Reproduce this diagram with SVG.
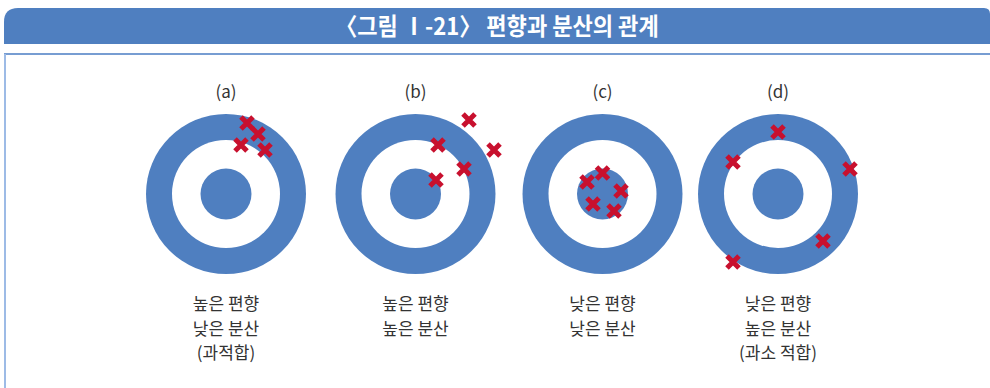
<svg xmlns="http://www.w3.org/2000/svg" width="990" height="388" viewBox="0 0 990 388">
<style>
.ring{fill:#4f7fc0}
.hole{fill:#ffffff}
.lab{font-family:"Noto Sans CJK KR","Noto Sans",sans-serif;font-size:17px;fill:#333333;text-anchor:middle}
.title{font-family:"Noto Sans CJK KR","Noto Sans",sans-serif;font-size:24px;font-weight:bold;fill:#ffffff;text-anchor:middle;transform-box:fill-box;transform-origin:center;transform:scaleX(0.92)}
.x{stroke:#c8102e;stroke-width:5;fill:none}
</style>
<defs>
<g id="tgt">
<circle class="ring" r="80"/>
<circle class="hole" r="54"/>
<circle class="ring" r="25.5"/>
</g>
<path id="cr" class="x" d="M-6,-6L6,6M-6,6L6,-6"/>
</defs>
<rect width="990" height="388" fill="#ffffff"/>
<g id="header">
<path d="M4,44V22Q4,8 18,8H984Q990,8 990,14V44Z" fill="#4f7fc0"/>
<text class="title" x="497" y="35">〈그림 Ⅰ-21〉 편향과 분산의 관계</text>
</g>
<g id="frame">
<line x1="4" y1="54" x2="990" y2="54" stroke="#4a7cc3" stroke-width="1.5"/>
<line x1="5" y1="54" x2="5" y2="388" stroke="#9dbbe6" stroke-width="2"/>
</g>
<g id="target-a">
<text class="lab" x="226" y="98">(a)</text>
<use href="#tgt" x="226" y="194"/>
<use href="#cr" x="247" y="123"/>
<use href="#cr" x="258" y="134"/>
<use href="#cr" x="241" y="145"/>
<use href="#cr" x="265" y="150"/>
<text class="lab" x="226" y="310">높은 편향</text>
<text class="lab" x="226" y="335">낮은 분산</text>
<text class="lab" x="226" y="359">(과적합)</text>
</g>
<g id="target-b">
<text class="lab" x="415.5" y="98">(b)</text>
<use href="#tgt" x="415.5" y="194"/>
<use href="#cr" x="469" y="120"/>
<use href="#cr" x="438" y="145"/>
<use href="#cr" x="494" y="150"/>
<use href="#cr" x="464" y="169"/>
<use href="#cr" x="436" y="180"/>
<text class="lab" x="415.5" y="310">높은 편향</text>
<text class="lab" x="415.5" y="335">높은 분산</text>
</g>
<g id="target-c">
<text class="lab" x="602.5" y="98">(c)</text>
<use href="#tgt" x="602.5" y="194"/>
<use href="#cr" x="602.5" y="173"/>
<use href="#cr" x="587" y="182"/>
<use href="#cr" x="621" y="191"/>
<use href="#cr" x="593" y="204"/>
<use href="#cr" x="614" y="211"/>
<text class="lab" x="602.5" y="310">낮은 편향</text>
<text class="lab" x="602.5" y="335">낮은 분산</text>
</g>
<g id="target-d">
<text class="lab" x="778" y="98">(d)</text>
<use href="#tgt" x="778" y="194"/>
<use href="#cr" x="778" y="132"/>
<use href="#cr" x="733" y="162"/>
<use href="#cr" x="850" y="169"/>
<use href="#cr" x="823" y="241"/>
<use href="#cr" x="733" y="262"/>
<text class="lab" x="778" y="310">낮은 편향</text>
<text class="lab" x="778" y="335">높은 분산</text>
<text class="lab" x="778" y="359">(과소 적합)</text>
</g>
<g id="connectors"/>
</svg>
